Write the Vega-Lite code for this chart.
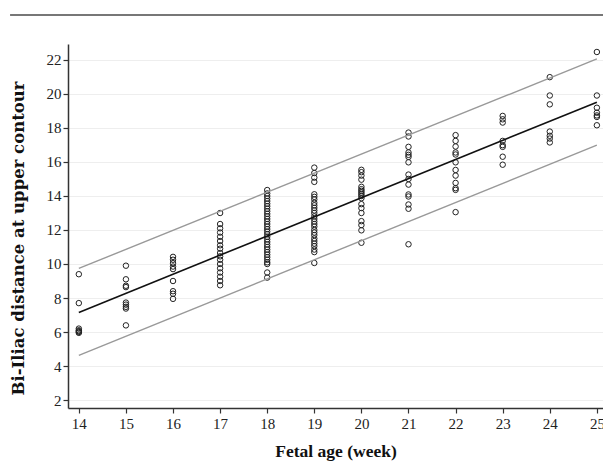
{
  "$schema": "https://vega.github.io/schema/vega-lite/v6.json",
  "width": 535,
  "height": 364,
  "autosize": {"type": "none"},
  "padding": {"left": 68, "top": 44, "right": 0, "bottom": 63},
  "background": "white",
  "config": {
    "view": {"stroke": null},
    "axis": {
      "labelFont": "Liberation Serif",
      "titleFont": "Liberation Serif",
      "labelFontSize": 15,
      "titleFontSize": 17.5,
      "titleFontWeight": "bold",
      "labelColor": "#222",
      "titleColor": "#111",
      "domainColor": "#333",
      "domainWidth": 1.5,
      "tickColor": "#333",
      "tickWidth": 1.2,
      "tickSize": 5
    }
  },
  "datasets": {
    "pts": [
      {"w":14,"v":9.4},{"w":14,"v":7.7},{"w":14,"v":6.2},{"w":14,"v":6.1},{"w":14,"v":6.05},{"w":14,"v":6.0},{"w":14,"v":5.95},
      {"w":15,"v":9.9},{"w":15,"v":9.1},{"w":15,"v":8.72},{"w":15,"v":8.64},{"w":15,"v":7.73},{"w":15,"v":7.61},{"w":15,"v":7.48},{"w":15,"v":7.38},{"w":15,"v":6.39},
      {"w":16,"v":10.42},{"w":16,"v":10.25},{"w":16,"v":10.05},{"w":16,"v":9.85},{"w":16,"v":9.7},{"w":16,"v":9.0},{"w":16,"v":8.4},{"w":16,"v":8.25},{"w":16,"v":7.95},
      {"w":17,"v":13.0},{"w":17,"v":12.35},{"w":17,"v":12.1},{"w":17,"v":11.85},{"w":17,"v":11.6},{"w":17,"v":11.35},{"w":17,"v":11.1},{"w":17,"v":10.9},{"w":17,"v":10.65},{"w":17,"v":10.45},{"w":17,"v":10.25},{"w":17,"v":10.0},{"w":17,"v":9.75},{"w":17,"v":9.5},{"w":17,"v":9.25},{"w":17,"v":9.0},{"w":17,"v":8.75},
      {"w":18,"v":14.35},{"w":18,"v":14.15},{"w":18,"v":14.0},{"w":18,"v":13.85},{"w":18,"v":13.7},{"w":18,"v":13.55},{"w":18,"v":13.4},{"w":18,"v":13.25},{"w":18,"v":13.1},{"w":18,"v":12.95},{"w":18,"v":12.8},{"w":18,"v":12.65},{"w":18,"v":12.5},{"w":18,"v":12.35},{"w":18,"v":12.2},{"w":18,"v":12.05},{"w":18,"v":11.9},{"w":18,"v":11.75},{"w":18,"v":11.6},{"w":18,"v":11.45},{"w":18,"v":11.3},{"w":18,"v":11.15},{"w":18,"v":11.0},{"w":18,"v":10.85},{"w":18,"v":10.7},{"w":18,"v":10.55},{"w":18,"v":10.4},{"w":18,"v":10.25},{"w":18,"v":10.1},{"w":18,"v":10.0},{"w":18,"v":9.5},{"w":18,"v":9.2},
      {"w":19,"v":15.67},{"w":19,"v":15.35},{"w":19,"v":15.08},{"w":19,"v":14.83},{"w":19,"v":14.1},{"w":19,"v":13.95},{"w":19,"v":13.8},{"w":19,"v":13.6},{"w":19,"v":13.45},{"w":19,"v":13.3},{"w":19,"v":13.15},{"w":19,"v":13.0},{"w":19,"v":12.8},{"w":19,"v":12.65},{"w":19,"v":12.5},{"w":19,"v":12.35},{"w":19,"v":12.2},{"w":19,"v":12.0},{"w":19,"v":11.85},{"w":19,"v":11.7},{"w":19,"v":11.5},{"w":19,"v":11.35},{"w":19,"v":11.2},{"w":19,"v":11.05},{"w":19,"v":10.85},{"w":19,"v":10.7},{"w":19,"v":10.06},
      {"w":20,"v":15.54},{"w":20,"v":15.4},{"w":20,"v":15.2},{"w":20,"v":14.96},{"w":20,"v":14.54},{"w":20,"v":14.4},{"w":20,"v":14.3},{"w":20,"v":14.2},{"w":20,"v":14.1},{"w":20,"v":14.0},{"w":20,"v":13.87},{"w":20,"v":13.52},{"w":20,"v":13.29},{"w":20,"v":13.0},{"w":20,"v":12.52},{"w":20,"v":12.29},{"w":20,"v":11.98},{"w":20,"v":11.25},
      {"w":21,"v":17.73},{"w":21,"v":17.5},{"w":21,"v":16.89},{"w":21,"v":16.56},{"w":21,"v":16.42},{"w":21,"v":16.3},{"w":21,"v":15.98},{"w":21,"v":15.26},{"w":21,"v":15.0},{"w":21,"v":14.67},{"w":21,"v":14.09},{"w":21,"v":13.97},{"w":21,"v":13.5},{"w":21,"v":13.25},{"w":21,"v":11.16},
      {"w":22,"v":17.58},{"w":22,"v":17.24},{"w":22,"v":16.91},{"w":22,"v":16.56},{"w":22,"v":16.44},{"w":22,"v":15.98},{"w":22,"v":15.53},{"w":22,"v":15.2},{"w":22,"v":14.77},{"w":22,"v":14.46},{"w":22,"v":14.36},{"w":22,"v":13.05},
      {"w":23,"v":18.71},{"w":23,"v":18.51},{"w":23,"v":18.32},{"w":23,"v":17.24},{"w":23,"v":16.99},{"w":23,"v":16.89},{"w":23,"v":16.31},{"w":23,"v":15.84},
      {"w":24,"v":20.99},{"w":24,"v":19.91},{"w":24,"v":19.39},{"w":24,"v":17.79},{"w":24,"v":17.54},{"w":24,"v":17.38},{"w":24,"v":17.15},
      {"w":25,"v":22.47},{"w":25,"v":19.91},{"w":25,"v":19.19},{"w":25,"v":18.9},{"w":25,"v":18.74},{"w":25,"v":18.65},{"w":25,"v":18.16}
    ],
    "fitlines": [
      {"w":14,"fit":7.15,"upper":9.74,"lower":4.63},
      {"w":25,"fit":19.52,"upper":22.06,"lower":16.99}
    ],
    "border": [
      {"x1":12.54,"x2":25.3,"y":24.65}
    ]
  },
  "layer": [
    {
      "data": {"name": "pts"},
      "mark": {"type": "point", "shape": "circle", "filled": false, "size": 30, "stroke": "#222", "strokeWidth": 1, "opacity": 1},
      "encoding": {
        "x": {
          "field": "w", "type": "quantitative",
          "scale": {"domain": [13.77, 25.13], "nice": false, "zero": false},
          "axis": {"values": [14,15,16,17,18,19,20,21,22,23,24,25], "title": "Fetal age (week)", "grid": false, "labelPadding": 3, "titlePadding": 11, "labelOverlap": false}
        },
        "y": {
          "field": "v", "type": "quantitative",
          "scale": {"domain": [1.53, 22.94], "nice": false, "zero": false},
          "axis": {"values": [2,4,6,8,10,12,14,16,18,20,22], "tickCount": 11, "labelSeparation": 0, "labelOverlap": false, "title": "Bi-Iliac distance at upper contour", "titleFont": "DejaVu Serif", "titleFontSize": 16.5, "titleY": 194, "grid": true, "gridColor": "#eeeeee", "gridWidth": 1, "labelPadding": 2, "titlePadding": 20}
        }
      }
    },
    {
      "data": {"name": "fitlines"},
      "mark": {"type": "line", "color": "#111", "strokeWidth": 1.6},
      "encoding": {
        "x": {"field": "w", "type": "quantitative"},
        "y": {"field": "fit", "type": "quantitative"}
      }
    },
    {
      "data": {"name": "fitlines"},
      "mark": {"type": "line", "color": "#999", "strokeWidth": 1.4},
      "encoding": {
        "x": {"field": "w", "type": "quantitative"},
        "y": {"field": "upper", "type": "quantitative"}
      }
    },
    {
      "data": {"name": "fitlines"},
      "mark": {"type": "line", "color": "#999", "strokeWidth": 1.4},
      "encoding": {
        "x": {"field": "w", "type": "quantitative"},
        "y": {"field": "lower", "type": "quantitative"}
      }
    },
    {
      "data": {"name": "border"},
      "mark": {"type": "rule", "color": "#777", "strokeWidth": 2, "clip": false},
      "encoding": {
        "x": {"field": "x1", "type": "quantitative"},
        "x2": {"field": "x2"},
        "y": {"field": "y", "type": "quantitative"}
      }
    }
  ]
}
